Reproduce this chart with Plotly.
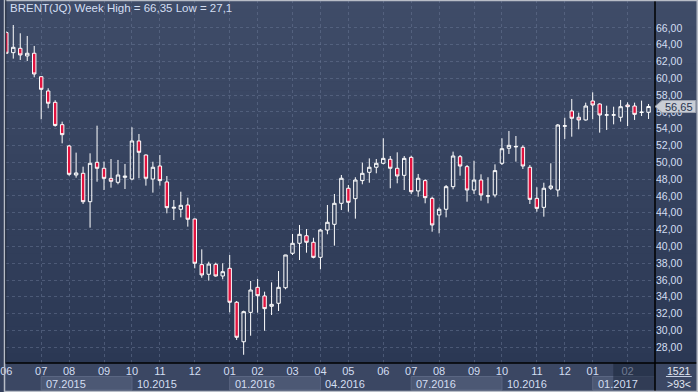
import plotly.graph_objects as go

# ---------------- data ----------------
opens = [65.45, 63.06, 63.58, 62.67, 62.99, 60.20, 58.50, 57.15, 54.49, 51.95,
         48.50, 48.70, 45.32, 50.01, 49.30, 48.10, 47.63, 48.22, 48.02, 52.55,
         50.88, 48.02, 49.57, 47.67, 44.55, 44.42, 44.93, 43.26, 37.83, 36.68,
         37.87, 36.48, 37.39, 33.35, 28.65, 32.15, 35.13, 34.10, 32.87, 33.23,
         35.08, 39.18, 40.37, 41.27, 40.49, 38.70, 41.95, 42.63, 45.13, 46.92,
         45.68, 47.83, 48.82, 49.42, 49.89, 50.37, 49.30, 48.46, 50.60, 46.60,
         47.83, 45.72, 43.74, 44.42, 47.11, 50.68, 49.49, 46.71, 47.90, 45.97,
         46.12, 49.89, 51.68, 51.84, 51.80, 49.42, 45.72, 44.65, 46.92, 46.71,
         54.30, 56.12, 55.37, 55.05, 57.31, 56.95, 55.62, 55.62, 55.37, 56.83,
         56.71, 55.94, 55.96]
highs = [65.60, 66.35, 65.37, 65.05, 63.86, 60.25, 58.82, 57.40, 54.85, 52.07,
         51.16, 49.49, 51.08, 54.37, 50.10, 50.40, 50.29, 49.81, 54.18, 53.38,
         50.95, 50.08, 50.88, 48.38, 45.52, 46.51, 45.80, 43.30, 39.65, 38.18,
         38.06, 37.99, 38.98, 33.50, 32.35, 35.88, 36.12, 34.61, 35.72, 37.07,
         39.00, 41.48, 42.55, 42.07, 41.03, 42.07, 44.93, 46.24, 48.50, 47.31,
         48.23, 49.97, 50.48, 50.40, 52.87, 50.76, 51.20, 50.76, 50.80, 48.62,
         48.00, 45.92, 44.65, 47.31, 51.28, 50.88, 49.69, 50.20, 48.58, 48.23,
         49.77, 52.87, 53.74, 53.14, 52.03, 49.69, 47.04, 47.58, 49.89, 54.57,
         55.32, 57.55, 55.92, 57.11, 58.34, 57.03, 56.75, 56.63, 57.43, 57.15,
         57.11, 57.35, 56.95]
lows = [62.90, 62.35, 62.19, 62.07, 60.13, 55.13, 56.44, 54.25, 52.27, 48.40,
        48.18, 45.05, 42.23, 47.70, 46.71, 46.99, 47.39, 46.83, 47.87, 48.11,
        47.23, 46.40, 47.23, 43.94, 43.14, 43.46, 42.35, 37.39, 36.27, 35.92,
        36.40, 36.08, 32.15, 28.86, 27.10, 29.37, 32.11, 29.96, 31.83, 32.31,
        34.89, 38.98, 38.38, 39.25, 38.58, 37.27, 41.44, 40.09, 44.33, 44.13,
        43.30, 47.39, 47.58, 48.70, 49.77, 46.92, 47.51, 46.71, 46.24, 45.92,
        45.13, 41.75, 41.55, 43.46, 46.80, 48.42, 45.32, 46.24, 45.44, 45.13,
        45.84, 49.69, 51.00, 50.09, 49.21, 45.05, 44.13, 43.54, 46.71, 45.92,
        52.79, 53.06, 53.94, 54.97, 55.13, 53.54, 53.86, 54.53, 54.85, 54.33,
        55.05, 55.52, 55.17]
closes = [62.99, 63.70, 62.79, 62.99, 60.52, 58.70, 57.04, 54.40, 53.30, 48.58,
          48.74, 45.32, 49.89, 49.30, 48.10, 47.75, 48.50, 48.36, 52.55, 51.20,
          48.11, 49.42, 47.83, 44.61, 44.65, 44.89, 43.23, 37.99, 36.60, 37.90,
          36.48, 36.99, 33.35, 29.18, 32.23, 34.81, 34.13, 32.59, 33.10, 35.13,
          38.98, 40.37, 41.44, 40.49, 38.70, 41.95, 42.87, 45.13, 48.11, 45.25,
          47.90, 48.70, 49.42, 49.89, 50.48, 49.30, 48.38, 50.48, 46.51, 48.11,
          45.80, 42.55, 44.42, 47.11, 50.76, 49.57, 46.71, 47.90, 46.12, 46.03,
          49.02, 51.63, 52.03, 51.90, 49.57, 45.60, 44.53, 46.92, 47.19, 54.45,
          54.36, 55.25, 55.05, 56.71, 56.83, 55.64, 55.66, 55.66, 56.63, 56.63,
          55.72, 55.98, 56.65]
bars = list(range(len(opens)))

month_tick_bars = [0, 5, 9, 14, 18, 22, 27, 32, 36, 41, 45, 49, 54, 58, 62, 67, 71, 76, 80, 84, 89]
month_tick_text = ["06", "07", "08", "09", "10", "11", "12", "01", "02", "03", "04",
                   "05", "06", "07", "08", "09", "10", "11", "12", "01", "02"]
quarter_bars = [5, 18, 32, 45, 58, 71, 84]
quarter_text = ["07.2015", "10.2015", "01.2016", "04.2016", "07.2016", "10.2016", "01.2017"]
price_ticks = list(range(28, 67, 2))
title_text = "BRENT(JQ) Week High = 66,35 Low = 27,1"
last_price = closes[-1]
last_price_text = "56,65"
bar_count_text = "1521"
visible_text = ">93<"

# ---------------- figure ----------------
W, H = 698, 392
ML, MR, MT, MB = 2, 43, 0, 29
pw, ph = W - ML - MR, H - MT - MB
pxl = lambda px: (px - ML) / pw       # pixel -> paper x
pyl = lambda py: (H - MB - py) / ph   # pixel -> paper y

FONT = "Liberation Sans"
TXT = "#d3def2"
YMIN, YMAX = 26.12, 69.33

fig = go.Figure()
fig.add_trace(go.Candlestick(
    x=bars, open=opens, high=highs, low=lows, close=closes,
    increasing=dict(line=dict(color="#ffffff", width=1), fillcolor="rgba(0,0,0,0)"),
    decreasing=dict(line=dict(color="#ffffff", width=1), fillcolor="#e2133f"),
    whiskerwidth=0, hoverinfo="skip", showlegend=False,
))

shapes = []
# gradient background (plot + right axis panel)
top = (63, 76, 104)
bot = (43, 56, 84)
n = 40
for i in range(n):
    t = i / (n - 1)
    c = tuple(int(round(top[k] + (bot[k] - top[k]) * t)) for k in range(3))
    shapes.append(dict(type="rect", xref="paper", yref="paper",
                       x0=pxl(0), x1=pxl(W), y0=1 - (i + 1) / n, y1=1 - i / n + 0.001,
                       fillcolor="rgb(%d,%d,%d)" % c, line=dict(width=0), layer="below"))
# bottom axis panel
shapes.append(dict(type="rect", xref="paper", yref="paper", x0=pxl(0), x1=pxl(W),
                   y0=pyl(H), y1=0, fillcolor="#3b4763", line=dict(width=0), layer="below"))
# quarter boxes (alternating)
for i, qb in enumerate(quarter_bars):
    if i % 2 == 0:
        x1 = quarter_bars[i + 1] if i + 1 < len(quarter_bars) else bars[-1] + 5
        shapes.append(dict(type="rect", xref="x", yref="paper", x0=qb, x1=x1,
                           y0=pyl(390), y1=pyl(376.5), fillcolor="#4c5874",
                           line=dict(color="#5a6682", width=1), layer="below"))
# darker highlight region at right of time axis
shapes.append(dict(type="rect", xref="paper", yref="paper", x0=pxl(613), x1=1,
                   y0=pyl(390), y1=0, fillcolor="rgba(28,38,60,0.55)", line=dict(width=0)))
# separator lines
shapes.append(dict(type="line", xref="paper", yref="paper", x0=pxl(0), x1=pxl(W), y0=0, y1=0,
                   line=dict(color="#000000", width=1.5)))
shapes.append(dict(type="line", xref="paper", yref="paper", x0=1, x1=1, y0=pyl(H), y1=1,
                   line=dict(color="#000000", width=1.5)))
# bar-count divider
shapes.append(dict(type="line", xref="paper", yref="paper", x0=pxl(666), x1=pxl(692),
                   y0=pyl(376.5), y1=pyl(376.5), line=dict(color="#c8d2e4", width=1)))
# last price marker
hh = 6 / (ph / (YMAX - YMIN))
shapes.append(dict(type="path", xref="paper", yref="y",
                   path="M %f,%f L %f,%f L %f,%f L %f,%f L %f,%f Z" % (
                       1.0, last_price, pxl(662), last_price + hh, pxl(696), last_price + hh,
                       pxl(696), last_price - hh, pxl(662), last_price - hh),
                   fillcolor="#c9cdd5", line=dict(color="#9ea4b0", width=1)))
# outer frame
shapes.append(dict(type="rect", xref="paper", yref="paper", x0=pxl(0.5), x1=pxl(W - 0.5),
                   y0=pyl(H - 0.5), y1=pyl(0.5), line=dict(color="#b8bdc7", width=1.5),
                   fillcolor="rgba(0,0,0,0)"))
shapes.append(dict(type="line", xref="paper", yref="paper", x0=pxl(1.8), x1=pxl(1.8),
                   y0=0, y1=1, line=dict(color="#222a3a", width=1)))

annotations = [
    dict(text=title_text, xref="paper", yref="paper", x=pxl(4), y=pyl(8.5),
         xanchor="left", yanchor="middle", showarrow=False,
         font=dict(family=FONT, size=11.5, color=TXT)),
    dict(text=last_price_text, xref="paper", yref="y", x=pxl(679), y=last_price,
         xanchor="center", yanchor="middle", showarrow=False,
         font=dict(family=FONT, size=11, color="#28344e")),
    dict(text=bar_count_text, xref="paper", yref="paper", x=pxl(679), y=pyl(370.5),
         xanchor="center", yanchor="middle", showarrow=False,
         font=dict(family=FONT, size=10.5, color="#e2e8f3")),
    dict(text=visible_text, xref="paper", yref="paper", x=pxl(679), y=pyl(383.5),
         xanchor="center", yanchor="middle", showarrow=False,
         font=dict(family=FONT, size=10.5, color="#e2e8f3")),
]
for qb, qt in zip(quarter_bars, quarter_text):
    annotations.append(dict(text=qt, xref="x", yref="paper", x=qb, xshift=3,
                            y=pyl(383.5), xanchor="left", yanchor="middle", showarrow=False,
                            font=dict(family=FONT, size=11, color=TXT)))

x_per_px = 1 / 7.024
fig.update_layout(
    width=W, height=H, margin=dict(l=ML, r=MR, t=MT, b=MB),
    paper_bgcolor="#34405c", plot_bgcolor="rgba(0,0,0,0)",
    separators=", ", hovermode=False, showlegend=False,
    shapes=shapes, annotations=annotations,
    xaxis=dict(range=[0 - 0.3 * x_per_px, 0 - 0.3 * x_per_px + pw * x_per_px],
               rangeslider=dict(visible=False), tickmode="array",
               tickvals=month_tick_bars, ticktext=month_tick_text, ticklabeloverflow="allow",
               showgrid=True, gridcolor="rgba(105,120,150,0.5)", griddash="3px,3px", gridwidth=1,
               zeroline=False, showline=False, ticks="",
               tickfont=dict(family=FONT, size=11, color=TXT)),
    yaxis=dict(range=[YMIN, YMAX], side="right", tickmode="array", tickvals=price_ticks,
               tickformat=".2f", showgrid=True, gridcolor="rgba(105,120,150,0.5)",
               griddash="3px,3px", gridwidth=1, zeroline=False, showline=False, ticks="",
               tickfont=dict(family=FONT, size=10.5, color=TXT)),
)

fig.write_html(
    "out.html",
    config={"displayModeBar": False, "staticPlot": True},
    post_script="document.body.style.margin='0';document.body.style.padding='0';"
                "document.documentElement.style.overflow='hidden';",
)
